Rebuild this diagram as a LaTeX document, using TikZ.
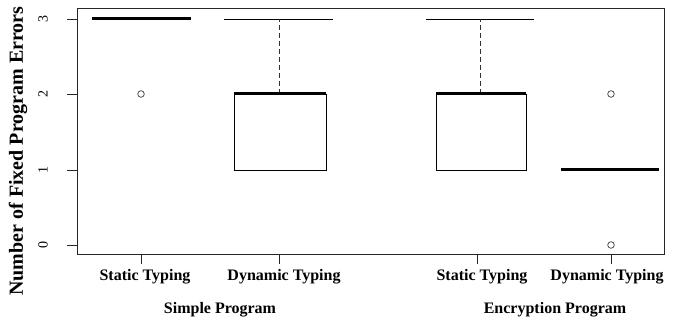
\documentclass[tikz,border=0pt]{standalone}
\usepackage{fontspec}
\setmainfont{Liberation Serif}
\begin{document}
\begin{tikzpicture}[x=1pt,y=-1pt,
  frame/.style={draw=black!85,line width=0.9pt},
  boxline/.style={draw=black,line width=0.9pt},
  medline/.style={draw=black,line width=3pt},
  whisk/.style={draw=black!80,line width=0.9pt,dash pattern=on 5pt off 3pt},
  capline/.style={draw=black,line width=0.9pt},
  outl/.style={draw=black!80,line width=0.7pt},
  ticklab/.style={font=\fontsize{14}{14}\selectfont,rotate=90},
  grouplab/.style={font=\bfseries\fontsize{16}{16}\selectfont},
  axtitle/.style={font=\bfseries\fontsize{20}{20}\selectfont,rotate=90}]
\useasboundingbox (0,0) rectangle (681,320);
% frame
\draw[frame] (77,8) rectangle (664,254);
% y ticks
\foreach \v/\py in {0/245,1/170,2/94,3/19} {
  \coordinate (yt\v) at (77,\py);
  \draw[frame] (yt\v) -- ++(-10,0);
  \node[ticklab] (ylab\v) at (43,\py) {\v};
}
\node[axtitle] (ytitle) at (18,151) {Number of Fixed Program Errors};
% x ticks
\foreach \n/\px in {1/141,2/279,3/477,4/611} {
  \coordinate (xt\n) at (\px,254);
  \draw[frame] (xt\n) -- ++(0,10);
}
% box 1: static, simple
\draw[medline] (92,19) -- (191,19);
\draw[outl] (141,94) circle (3.3);
% box 2: dynamic, simple
\coordinate (b2top) at (279,19);
\coordinate (b2q3) at (279,94);
\draw[capline] (224,19) -- (333,19);
\draw[whisk] (b2q3) -- (b2top);
\draw[boxline] (234,94) rectangle (326,170);
\draw[medline] (234,94) -- (326,94);
% box 3: static, encryption
\coordinate (b3top) at (480,19);
\coordinate (b3q3) at (480,94);
\draw[capline] (426,19) -- (534,19);
\draw[whisk] (b3q3) -- (b3top);
\draw[boxline] (436,94) rectangle (526,170);
\draw[medline] (436,94) -- (526,94);
% box 4: dynamic, encryption
\draw[medline] (561,170) -- (659,170);
\draw[outl] (611,94) circle (3.3);
\draw[outl] (611,245) circle (3.3);
% x labels
\node[grouplab] (l1) at (145,277) {Static Typing};
\node[grouplab] (l2) at (284,277) {Dynamic Typing};
\node[grouplab] (l3) at (482,277) {Static Typing};
\node[grouplab] (l4) at (607,277) {Dynamic Typing};
\node[grouplab] (g1) at (220,310) {Simple Program};
\node[grouplab] (g2) at (555,310) {Encryption Program};
\end{tikzpicture}
\end{document}
